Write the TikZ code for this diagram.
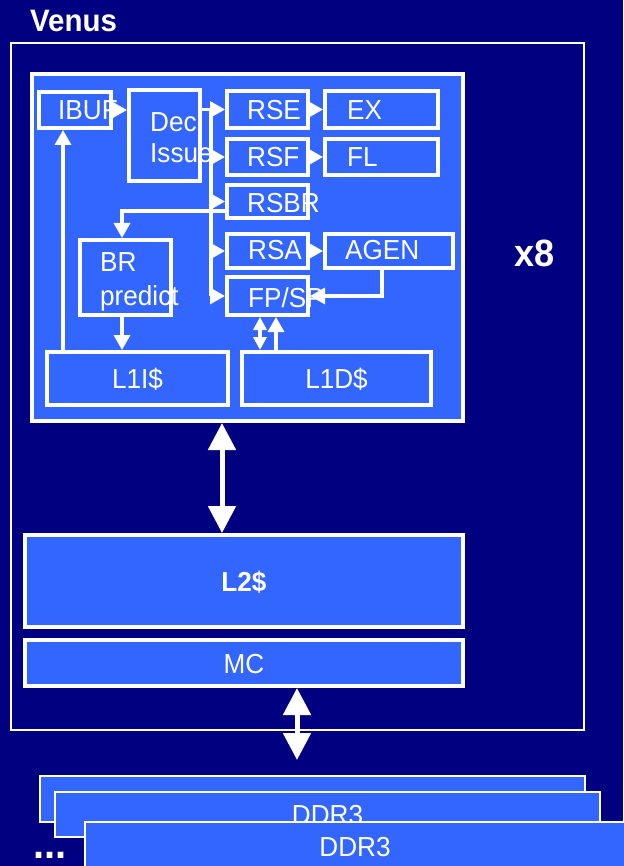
\documentclass[tikz,border=0pt]{standalone}
\usepackage{fontspec}
\setmainfont{Liberation Sans}[FakeStretch=0.95]
\usetikzlibrary{arrows.meta}
\definecolor{navy}{RGB}{0,0,128}
\definecolor{boxblue}{RGB}{51,102,255}
\begin{document}
\begin{tikzpicture}[x=1pt,y=-1pt,
  blk/.style={draw=white,fill=boxblue,line width=4pt,inner sep=0pt,text=white,
    font=\fontsize{27.5}{31}\selectfont,text height=20pt,text depth=0pt},
  lbl/.style={anchor=base west,inner sep=0pt,text=white,font=\fontsize{27.5}{31}\selectfont},
  ddr/.style={blk,line width=2.5pt},
  conn/.style={draw=white,line width=3.3pt},
  arr/.style={conn,-{Triangle[length=15pt,width=16pt]}},
  darr/.style={conn,{Triangle[length=13pt,width=13pt]}-{Triangle[length=13pt,width=13pt]}},
  bigarr/.style={draw=white,line width=5pt,{Triangle[length=27pt,width=27pt]}-{Triangle[length=27pt,width=27pt]}},
]
\fill[navy] (0,0) rectangle (623,866);
\useasboundingbox (0,0) rectangle (623,866);

\node[lbl,font=\fontsize{31}{35}\selectfont\bfseries] (venus) at (30,32) {Venus};
\node[draw=white,line width=2pt,minimum width=573pt,minimum height=687pt,inner sep=0pt] (outer) at (297.5,386.5) {};
\node[lbl,font=\fontsize{38}{42}\selectfont\bfseries] (x8) at (514,267) {x8};

% core
\node[blk,minimum width=431pt,minimum height=347pt] (core) at (247.5,247.5) {};
\node[blk,minimum width=72pt,minimum height=36pt] (IBUF) at (75,110) {};
\node[blk,minimum width=71pt,minimum height=91pt] (Dec) at (164.5,135.5) {};
\node[blk,minimum width=81pt,minimum height=37pt] (RSE) at (267.5,109.5) {};
\node[blk,minimum width=113pt,minimum height=37pt] (EX) at (381.5,109.5) {};
\node[blk,minimum width=81pt,minimum height=36pt] (RSF) at (267.5,157) {};
\node[blk,minimum width=113pt,minimum height=36pt] (FL) at (381.5,157) {};
\node[blk,minimum width=81pt,minimum height=33pt] (RSBR) at (267.5,201.5) {};
\node[blk,minimum width=81pt,minimum height=34pt] (RSA) at (267.5,251) {};
\node[blk,minimum width=128pt,minimum height=34pt] (AGEN) at (389,251) {};
\node[blk,minimum width=81pt,minimum height=38pt] (FPSP) at (267.5,296) {};
\node[blk,minimum width=91pt,minimum height=75pt] (BR) at (125.5,277.5) {};
\node[blk,minimum width=181pt,minimum height=53pt] (L1I) at (137.5,378.5) {L1I\$};
\node[blk,minimum width=189pt,minimum height=53pt] (L1D) at (336.5,378.5) {L1D\$};

\coordinate (trunk) at (211,0);
\coordinate (ibufcol) at (63,0);
\coordinate (cxa) at (260,0);
\coordinate (cxb) at (276,0);
\coordinate (l2col) at (222,0);
\coordinate (mccol) at (297,0);
\coordinate (ddrtip) at (297,760);

% connectors
\draw[arr] (IBUF.east) -- (IBUF.east -| Dec.west);
\draw[conn] (Dec.east |- RSE.west) -- (trunk |- RSE.west) -- (trunk |- FPSP.west);
\draw[arr] (trunk |- RSE.west) -- (RSE.west);
\draw[arr] (trunk |- RSF.west) -- (RSF.west);
\draw[arr] (trunk |- RSBR.west) -- (RSBR.west);
\draw[arr] (trunk |- RSA.west) -- (RSA.west);
\draw[arr] (trunk |- FPSP.west) -- (FPSP.west);
\draw[arr] (RSE.east) -- (EX.west);
\draw[arr] (RSF.east) -- (FL.west);
\draw[arr] (RSA.east) -- (AGEN.west);
\draw[arr] ([xshift=-7pt]AGEN.south) |- (FPSP.east);
\draw[arr] ([yshift=-9.5pt]RSBR.west) -| ([xshift=-3.5pt]BR.north);
\draw[arr] ([xshift=-3.5pt]BR.south) -- ([xshift=-3.5pt]BR.south |- L1I.north);
\draw[arr] (ibufcol |- L1I.north) -- (ibufcol |- IBUF.south);
\draw[darr] (cxa |- FPSP.south) -- (cxa |- L1D.north);
\draw[arr] (cxb |- L1D.north) -- (cxb |- FPSP.south);

% labels
\node[lbl] (tIBUF) at (58,120) {IBUF};
\node[lbl] (tDec) at (150,132) {Dec};
\node[lbl] (tIssue) at (150,163) {Issue};
\node[lbl] (tRSE) at (247,120) {RSE};
\node[lbl] (tEX) at (347,120) {EX};
\node[lbl] (tRSF) at (247,167) {RSF};
\node[lbl] (tFL) at (347,167) {FL};
\node[lbl] (tRSBR) at (247,213) {RSBR};
\node[lbl] (tRSA) at (248,260) {RSA};
\node[lbl] (tAGEN) at (345,260) {AGEN};
\node[lbl] (tFPSP) at (248,307) {FP/SP};
\node[lbl] (tBR) at (100,272) {BR};
\node[lbl] (tpred) at (100,305) {predict};

% L2 and MC
\node[blk,minimum width=438pt,minimum height=92pt,font=\fontsize{27.5}{31}\selectfont\bfseries] (L2) at (244,581) {L2\$};
\node[blk,minimum width=438pt,minimum height=46pt] (MC) at (244,663) {MC};
\draw[bigarr] (l2col |- core.south) -- (l2col |- L2.north);
\draw[bigarr] (mccol |- MC.south) -- (ddrtip);

% DDR3
\node[ddr,minimum width=545pt,minimum height=46pt] (ddra) at (312.5,799) {};
\node[ddr,minimum width=545pt,minimum height=45pt] (ddrb) at (327.5,814.5) {DDR3};
\node[ddr,minimum width=540pt,minimum height=48pt] (ddrc) at (355,846) {DDR3};
\node[lbl,font=\fontsize{42}{46}\selectfont\bfseries] (dots) at (33,858) {...};
\end{tikzpicture}
\end{document}
